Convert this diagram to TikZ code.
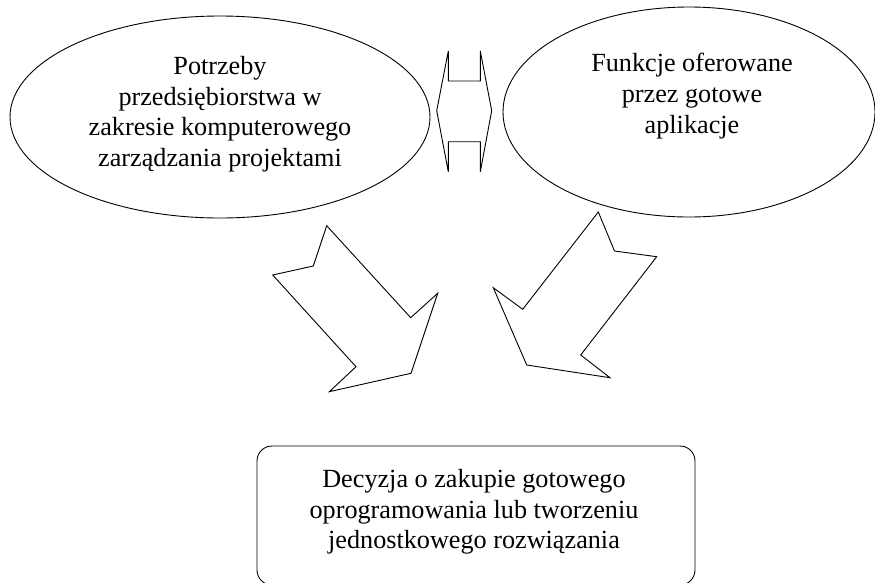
\documentclass[tikz,border=0pt]{standalone}
\usepackage{fontspec}
\setmainfont{Liberation Serif}
\usetikzlibrary{shapes.geometric}

\begin{document}
\begin{tikzpicture}
[x=1pt, y=-1pt, line width=0.9pt,
 every node/.style={inner sep=0pt, align=center, font=\fontsize{26.2}{30.6}\selectfont},
 bubble/.style={ellipse, draw=black},
 blockarrow/.style={draw=black, fill=white, line join=miter}]
\clip (0,0) rectangle (875,582);
% ellipses
\node (needs) [bubble, minimum width=420pt, minimum height=202pt] at (220,117) {};
\node (needstext) at (220,114)
  {Potrzeby\\przedsiębiorstwa w\\zakresie komputerowego\\zarządzania projektami};
\node (offer) [bubble, minimum width=372pt, minimum height=210pt] at (689,112) {};
\node (offertext) at (692,96) {Funkcje oferowane\\przez gotowe\\aplikacje};
% decision box
\node (decision) [draw=black, rounded corners=15pt, minimum width=438pt, minimum height=139pt] at (476,515.5) {};
\node (decisiontext) at (474,512)
  {Decyzja o zakupie gotowego\\oprogramowania lub tworzeniu\\jednostkowego rozwiązania};
% double arrow between the ellipses
\draw [blockarrow] (436.7,110.7) -- (448.3,51) -- (448.3,81) -- (480.3,81) -- (480.3,51)
  -- (491.7,110.7) -- (480.3,171.7) -- (480.3,141.7) -- (448.3,141.7) -- (448.3,171.7) -- cycle;
% left block arrow
\draw [blockarrow] (326.7,225.7) -- (313.3,266) -- (272.7,275) -- (356,366.7) -- (329.3,391.7)
  -- (411,373.3) -- (437.7,293.3) -- (410.7,317.7) -- cycle;
% right block arrow
\draw [blockarrow] (598.3,212) -- (522.7,309.3) -- (493.3,287.7) -- (526.7,365) -- (610,377.7)
  -- (580.7,355) -- (656.7,256.7) -- (614.5,251) -- cycle;
\end{tikzpicture}
\end{document}
